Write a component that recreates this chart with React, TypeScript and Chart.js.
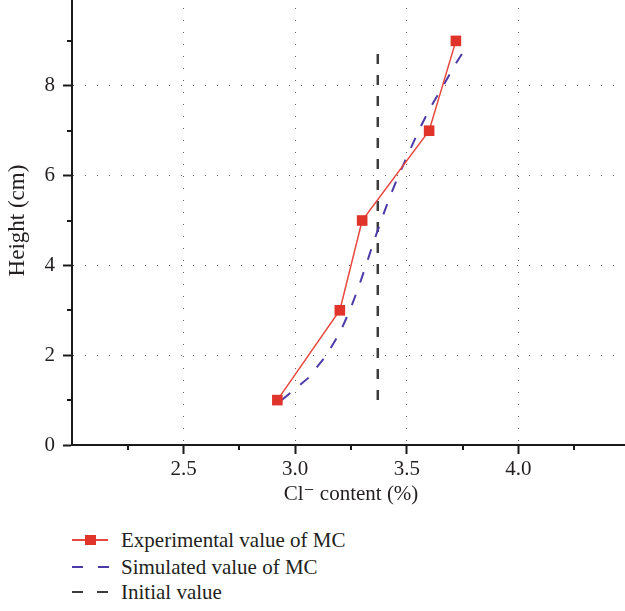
import React, { useEffect, useRef } from 'react';
import { Chart, registerables } from 'chart.js';

Chart.register(...registerables);

// ---- data ----
const experimentalHeights = [1, 3, 5, 7, 9];
const experimentalCl = [2.92, 3.2, 3.3, 3.6, 3.72];

const simulatedHeights = [1, 1.5, 2, 2.5, 3, 3.5, 4, 4.5, 5, 5.5, 6, 6.5, 7, 7.5, 8, 8.5, 8.85];
const simulatedCl = [2.94, 3.06, 3.14, 3.2, 3.245, 3.283, 3.317, 3.35, 3.385, 3.422, 3.463, 3.508, 3.553, 3.604, 3.663, 3.72, 3.765];

const initialHeights = [1, 8.85];
const initialCl = [3.37, 3.37];

const xMinorTicks = [2.25, 2.75, 3.25, 3.75, 4.25];
const yMinorTicks = [1, 3, 5, 7, 9];
const xHiddenLabels = [2.0, 4.5];
const yHiddenLabels = [10];

const seriesNames = ['Experimental value of MC', 'Simulated value of MC', 'Initial value'];
const xTitle = 'Cl\u207B content (%)';
const yTitle = 'Height (cm)';

const RED_LINE = '#e8473e';
const RED_MARK = '#e0332a';
const BLUE = '#4a3ba8';
const GREY = '#3c3c3c';
const AXIS = '#1a1a1a';
const TEXT = '#231f20';
const FONT = "'Liberation Serif', 'DejaVu Serif', serif";

const minorTickPlugin = {
  id: 'minorTicks',
  afterDraw(chart: any) {
    const { ctx, chartArea } = chart;
    const x = chart.scales.x;
    const y = chart.scales.y;
    ctx.save();
    ctx.strokeStyle = AXIS;
    ctx.lineWidth = 2;
    ctx.beginPath();
    xMinorTicks.forEach((v) => {
      const px = Math.round(x.getPixelForValue(v));
      ctx.moveTo(px, chartArea.bottom);
      ctx.lineTo(px, chartArea.bottom + 5);
    });
    yMinorTicks.forEach((v) => {
      const py = Math.round(y.getPixelForValue(v));
      ctx.moveTo(chartArea.left, py);
      ctx.lineTo(chartArea.left - 5, py);
    });
    ctx.stroke();
    ctx.restore();
  },
};

function toPoints(xs: number[], ys: number[]) {
  return xs.map((v, i) => ({ x: v, y: ys[i] }));
}

export default function App() {
  const ref = useRef<HTMLCanvasElement | null>(null);

  useEffect(() => {
    if (!ref.current) return;
    const chart = new Chart(ref.current, {
      type: 'scatter',
      data: {
        datasets: [
          {
            label: seriesNames[0],
            data: toPoints(experimentalCl, experimentalHeights),
            showLine: true,
            borderColor: RED_LINE,
            borderWidth: 1.5,
            pointStyle: 'rect',
            pointRadius: 7.5,
            pointHoverRadius: 7.5,
            pointBackgroundColor: RED_MARK,
            pointBorderWidth: 0,
            clip: false,
          },
          {
            label: seriesNames[1],
            data: toPoints(simulatedCl, simulatedHeights),
            showLine: true,
            borderColor: BLUE,
            borderWidth: 2,
            borderDash: [11, 13],
            pointRadius: 0,
            tension: 0,
          },
          {
            label: seriesNames[2],
            data: toPoints(initialCl, initialHeights),
            showLine: true,
            borderColor: GREY,
            borderWidth: 2.5,
            borderDash: [10, 11],
            pointRadius: 0,
          },
        ],
      },
      options: {
        animation: false,
        responsive: false,
        maintainAspectRatio: false,
        layout: { padding: 0, autoPadding: false },
        plugins: {
          legend: { display: false },
          tooltip: { enabled: false },
        },
        scales: {
          x: {
            type: 'linear',
            min: 2.0,
            max: 4.5,
            afterFit: (s: any) => {
              s.height = 62;
              s.paddingLeft = 0;
              s.paddingRight = 0;
            },
            ticks: {
              stepSize: 0.5,
              autoSkip: false,
              maxRotation: 0,
              padding: 3,
              color: TEXT,
              font: { family: FONT, size: 21 },
              callback: (v: any) => (xHiddenLabels.includes(Number(v)) ? null : Number(v).toFixed(1)),
            },
            grid: {
              color: (c: any) => (c.tick && (c.tick.value === 2 || c.tick.value === 4.5) ? 'rgba(0,0,0,0)' : '#666'),
              lineWidth: 1,
              tickColor: AXIS,
              tickLength: 9,
              tickWidth: 2,
            },
            border: { display: true, color: AXIS, width: 2, dash: [1, 11] },
            title: {
              display: true,
              text: xTitle,
              color: TEXT,
              font: { family: FONT, size: 21 },
              padding: { top: 0, bottom: 0 },
            },
          },
          y: {
            type: 'linear',
            min: 0,
            max: 10,
            afterFit: (s: any) => {
              s.width = 72;
              s.paddingTop = 0;
              s.paddingBottom = 0;
            },
            ticks: {
              stepSize: 2,
              autoSkip: false,
              padding: 8,
              color: TEXT,
              font: { family: FONT, size: 21 },
              callback: (v: any) => (yHiddenLabels.includes(Number(v)) ? null : String(v)),
            },
            grid: {
              color: (c: any) => (c.tick && (c.tick.value === 0 || c.tick.value === 10) ? 'rgba(0,0,0,0)' : '#666'),
              lineWidth: 1,
              tickColor: AXIS,
              tickLength: 9,
              tickWidth: 2,
            },
            border: { display: true, color: AXIS, width: 2, dash: [1, 11] },
            title: {
              display: true,
              text: yTitle,
              color: TEXT,
              font: { family: FONT, size: 23 },
              padding: { top: 4, bottom: 0 },
            },
          },
        },
      },
      plugins: [minorTickPlugin],
    } as any);
    return () => chart.destroy();
  }, []);

  const rowStyle = (top: number): React.CSSProperties => ({
    position: 'absolute',
    left: 72,
    top: top - 14,
    height: 28,
    display: 'flex',
    alignItems: 'center',
    fontFamily: FONT,
    fontSize: 21,
    color: TEXT,
    whiteSpace: 'nowrap',
  });

  const dash = (left: number, color: string): React.CSSProperties => ({
    position: 'absolute',
    left,
    top: 13,
    width: 11,
    height: 2,
    background: color,
  });

  return (
    <div style={{ position: 'fixed', left: 0, top: 0, width: 625, height: 611, overflow: 'hidden', background: '#fff' }}>
      <canvas
        ref={ref}
        width={630}
        height={511}
        style={{ position: 'absolute', left: 0, top: -4, width: 630, height: 511 }}
      />
      <div style={rowStyle(540)}>
        <div style={{ position: 'relative', width: 36, height: 28, marginRight: 13 }}>
          <div style={{ position: 'absolute', left: 0, top: 13, width: 36, height: 2, background: RED_LINE }} />
          <div style={{ position: 'absolute', left: 13, top: 9, width: 11, height: 10, background: RED_MARK }} />
        </div>
        <span>{seriesNames[0]}</span>
      </div>
      <div style={rowStyle(567)}>
        <div style={{ position: 'relative', width: 36, height: 28, marginRight: 13 }}>
          <div style={dash(0, BLUE)} />
          <div style={dash(26, BLUE)} />
        </div>
        <span>{seriesNames[1]}</span>
      </div>
      <div style={rowStyle(592)}>
        <div style={{ position: 'relative', width: 36, height: 28, marginRight: 13 }}>
          <div style={dash(0, GREY)} />
          <div style={dash(25, GREY)} />
        </div>
        <span>{seriesNames[2]}</span>
      </div>
    </div>
  );
}
